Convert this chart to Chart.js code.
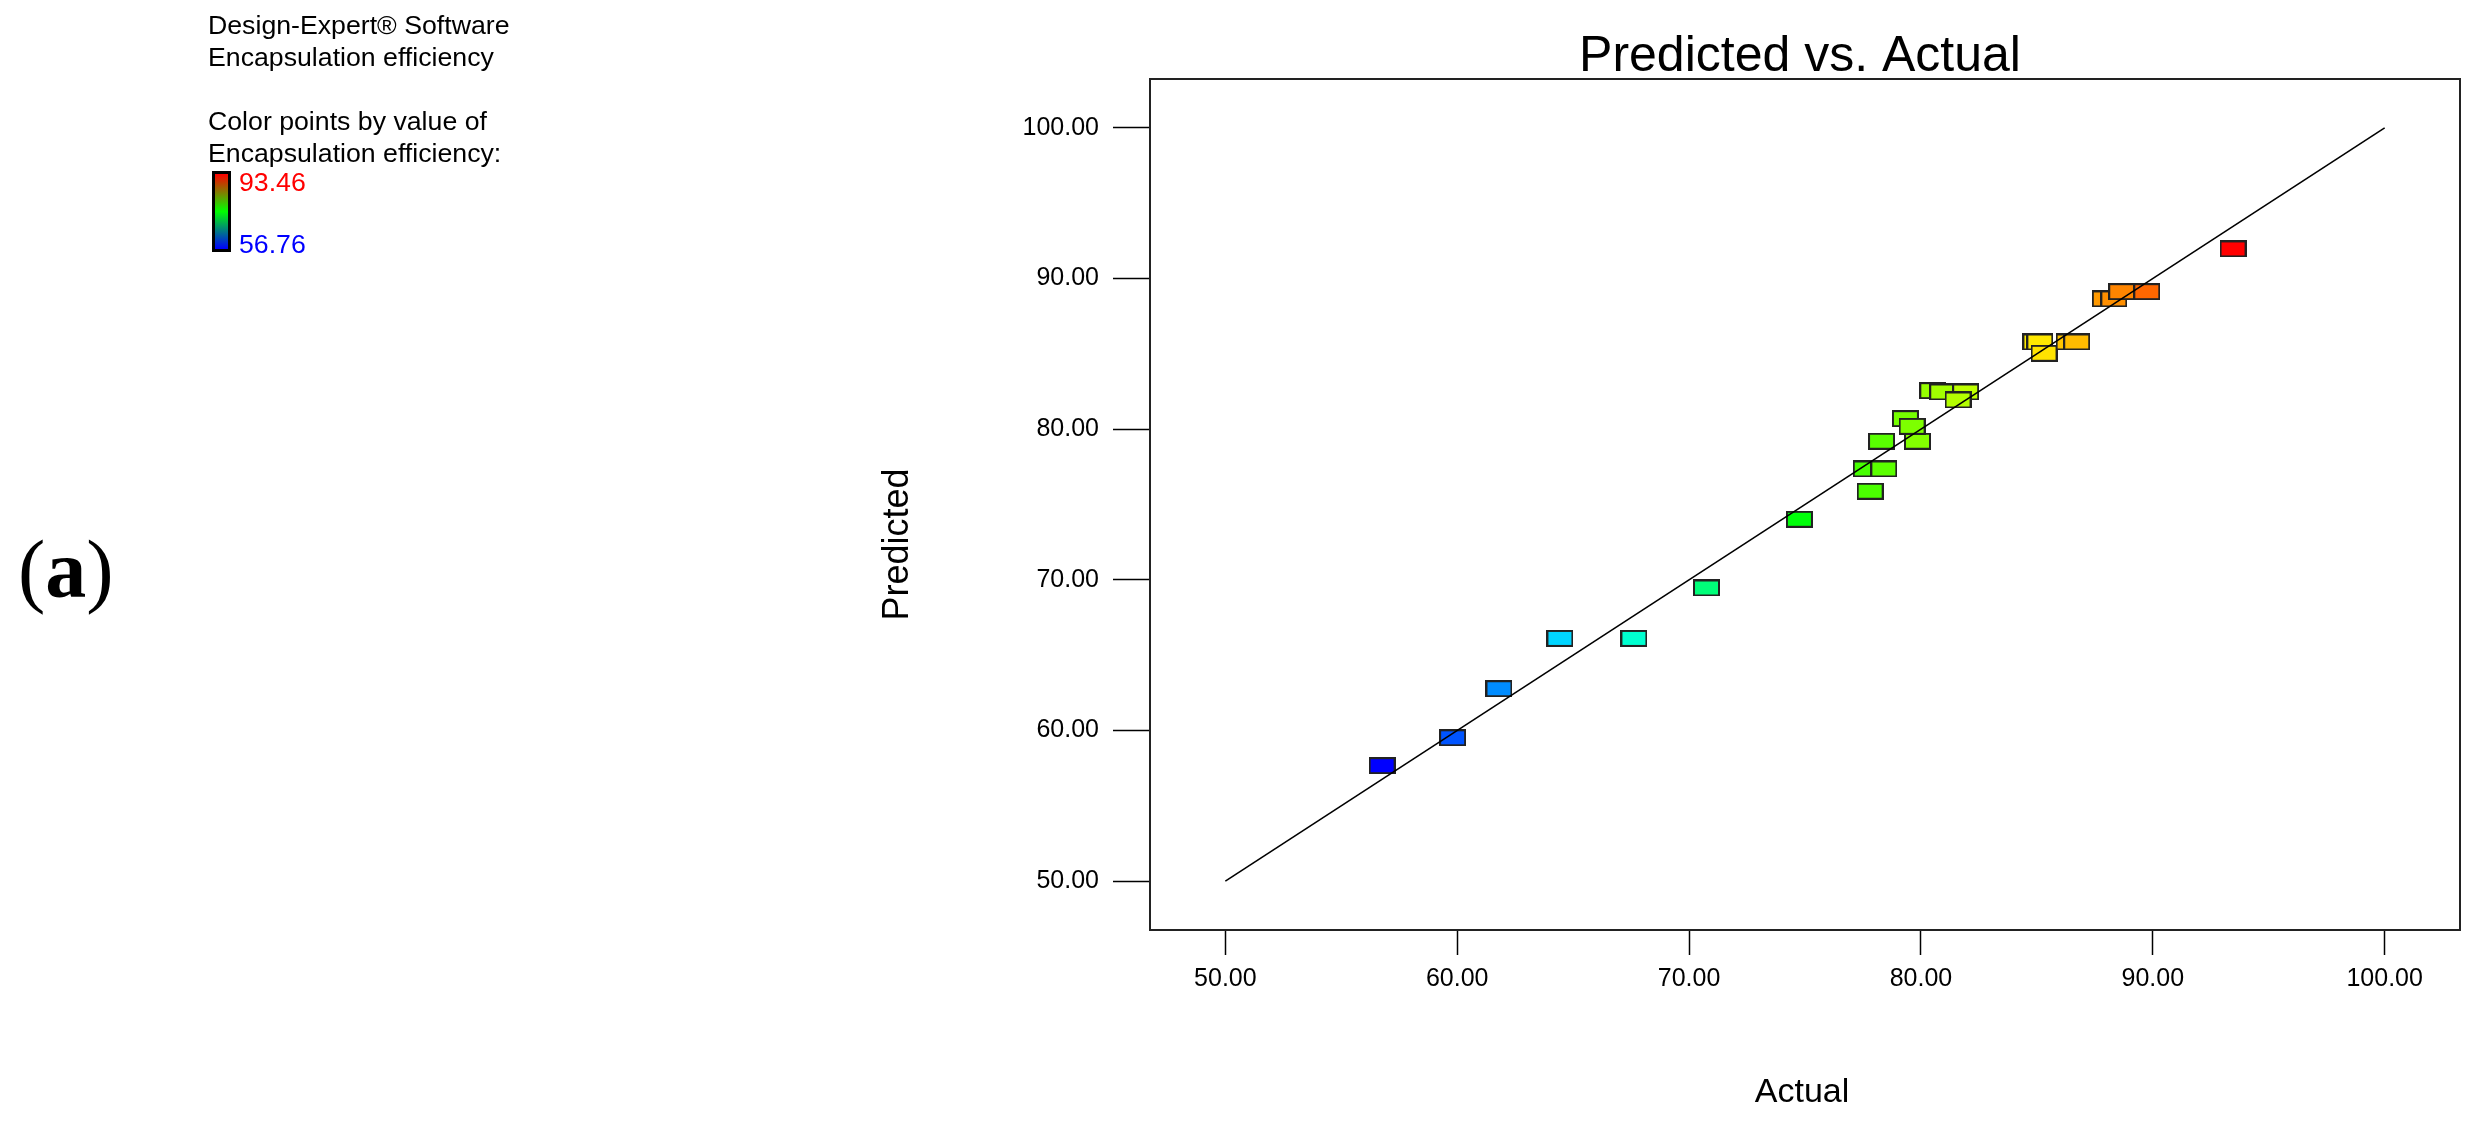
<!DOCTYPE html>
<html lang="en">
<head>
<meta charset="UTF-8">
<title>Predicted vs. Actual</title>
<script src="https://cdn.jsdelivr.net/npm/chart.js"></script>
<style>
    body { margin: 0; background: #fff; font-family: "Liberation Sans", Arial, sans-serif; }
    #wrap { position: relative; width: 2484px; height: 1128px; }
    #chart { position: absolute; left: 0; top: 0; }
    .note { position: absolute; left: 208px; top: 9px; font-size: 26.7px; line-height: 32px; color: #000; white-space: nowrap; }
    .bar { position: absolute; left: 212px; top: 171px; width: 19px; height: 81px; box-sizing: border-box;
           border: 3px solid #000; background: linear-gradient(#ff0000, #00ff00, #0000ff); }
    .val { position: absolute; left: 239px; font-size: 26.7px; line-height: 32px; }
    .tag { position: absolute; left: 18px; top: 520px; font-family: "Liberation Serif", "DejaVu Serif", serif; font-size: 82px; line-height: 100px; }
</style>
</head>
<body>
<div id="wrap">
    <canvas id="chart" width="2484" height="1128"></canvas>
    <div class="note">Design-Expert® Software<br>Encapsulation efficiency<br>&nbsp;<br>Color points by value of<br>Encapsulation efficiency:</div>
    <div class="bar"></div>
    <div class="val" style="top:166px;color:#ff0000">93.46</div>
    <div class="val" style="top:228px;color:#0000ff">56.76</div>
    <div class="tag">(<b>a</b>)</div>
</div>
<script>
    // design points: actual vs predicted encapsulation efficiency
    const actual = [56.76, 59.80, 61.80, 64.43, 67.62, 70.75, 74.76, 77.81, 77.64, 78.40,
                    78.30, 79.85, 79.33, 79.62, 80.51, 80.94, 81.93, 81.60, 84.96, 85.13,
                    85.31, 86.39, 86.72, 87.95, 88.32, 88.66, 89.74, 93.46];
    const predicted = [57.66, 59.51, 62.77, 66.11, 66.11, 69.46, 74.02, 75.88, 77.36, 77.36,
                       79.20, 79.20, 80.70, 80.19, 82.56, 82.47, 82.47, 81.94, 85.79, 85.79,
                       85.04, 85.79, 85.79, 88.65, 88.65, 89.13, 89.13, 91.97];
    const lineX = [50, 100];
    const lineY = [50, 100];
    const tickValues = [50, 60, 70, 80, 90, 100];
    const colorMin = 56.76;
    const colorMax = 93.46;

    const FONT = '"Liberation Sans", Arial, sans-serif';
    Chart.defaults.font.family = FONT;
    Chart.defaults.color = '#000';

    function rainbow(v) {
        const hue = 240 * (colorMax - v) / (colorMax - colorMin);
        return 'hsl(' + hue + ',100%,50%)';
    }

    function boxFor(color) {
        const c = document.createElement('canvas');
        c.width = 27; c.height = 17;
        const g = c.getContext('2d');
        g.fillStyle = color;
        g.fillRect(0, 0, 27, 17);
        g.strokeStyle = '#222';
        g.lineWidth = 2;
        g.strokeRect(1, 1, 25, 15);
        return c;
    }
    const boxes = actual.map(v => boxFor(rainbow(v)));

    function label(ctx, text, x, y, size, rot) {
        ctx.save();
        ctx.translate(x, y);
        ctx.rotate(rot);
        ctx.font = size + 'px ' + FONT;
        ctx.textAlign = 'center';
        ctx.textBaseline = 'alphabetic';
        ctx.fillStyle = '#000';
        ctx.fillText(text, 0, 0);
        ctx.restore();
    }

    // box round the plot + titles (y title sits a bit below centre in the original)
    const frame = {
        id: 'frame',
        afterDatasetsDraw(chart) {
            const { ctx, chartArea: a } = chart;
            ctx.save();
            ctx.strokeStyle = '#222';
            ctx.lineWidth = 2;
            ctx.strokeRect(a.left, a.top, a.right - a.left, a.bottom - a.top);
            ctx.restore();
        },
        afterDraw(chart) {
            const { ctx, chartArea: a } = chart;
            const cx = (a.left + a.right) / 2;
            const cy = (a.top + a.bottom) / 2;
            label(ctx, 'Predicted vs. Actual', cx - 5, a.top - 8, 50, 0);
            label(ctx, 'Actual', cx - 3, a.bottom + 172, 34, 0);
            label(ctx, 'Predicted', a.left - 242, cy + 40, 36, -Math.PI / 2);
        }
    };

    const axisTicks = s => { s.ticks = tickValues.map(v => ({ value: v })); };

    new Chart(document.getElementById('chart'), {
        type: 'scatter',
        data: {
            datasets: [
                {
                    type: 'line',
                    data: lineX.map((x, i) => ({ x: x, y: lineY[i] })),
                    borderColor: '#000',
                    borderWidth: 1.6,
                    pointRadius: 0,
                    fill: false,
                    order: 0
                },
                {
                    data: actual.map((x, i) => ({ x: x, y: predicted[i] })),
                    pointStyle: ctx => boxes[ctx.dataIndex],
                    pointRadius: 13,
                    order: 1
                }
            ]
        },
        options: {
            responsive: false,
            animation: false,
            layout: { padding: { left: 860, right: 24, top: 79, bottom: 0 } },
            plugins: {
                legend: { display: false },
                tooltip: { enabled: false }
            },
            scales: {
                x: {
                    type: 'linear',
                    min: 46.75,
                    max: 103.25,
                    afterBuildTicks: axisTicks,
                    afterFit: s => { s.height = 198; },
                    border: { display: false },
                    grid: { drawOnChartArea: false, drawTicks: true, tickLength: 25, tickColor: '#000', tickWidth: 1.5 },
                    ticks: { font: { size: 25 }, padding: 9, maxRotation: 0, autoSkip: false, callback: v => v.toFixed(2) }
                },
                y: {
                    type: 'linear',
                    min: 46.75,
                    max: 103.25,
                    afterBuildTicks: axisTicks,
                    afterFit: s => { s.width = 290; },
                    border: { display: false },
                    grid: { drawOnChartArea: false, drawTicks: true, tickLength: 37, tickColor: '#000', tickWidth: 1.5 },
                    ticks: { font: { size: 25 }, padding: 14, autoSkip: false, callback: v => v.toFixed(2) }
                }
            }
        },
        plugins: [frame]
    });
</script>
</body>
</html>
